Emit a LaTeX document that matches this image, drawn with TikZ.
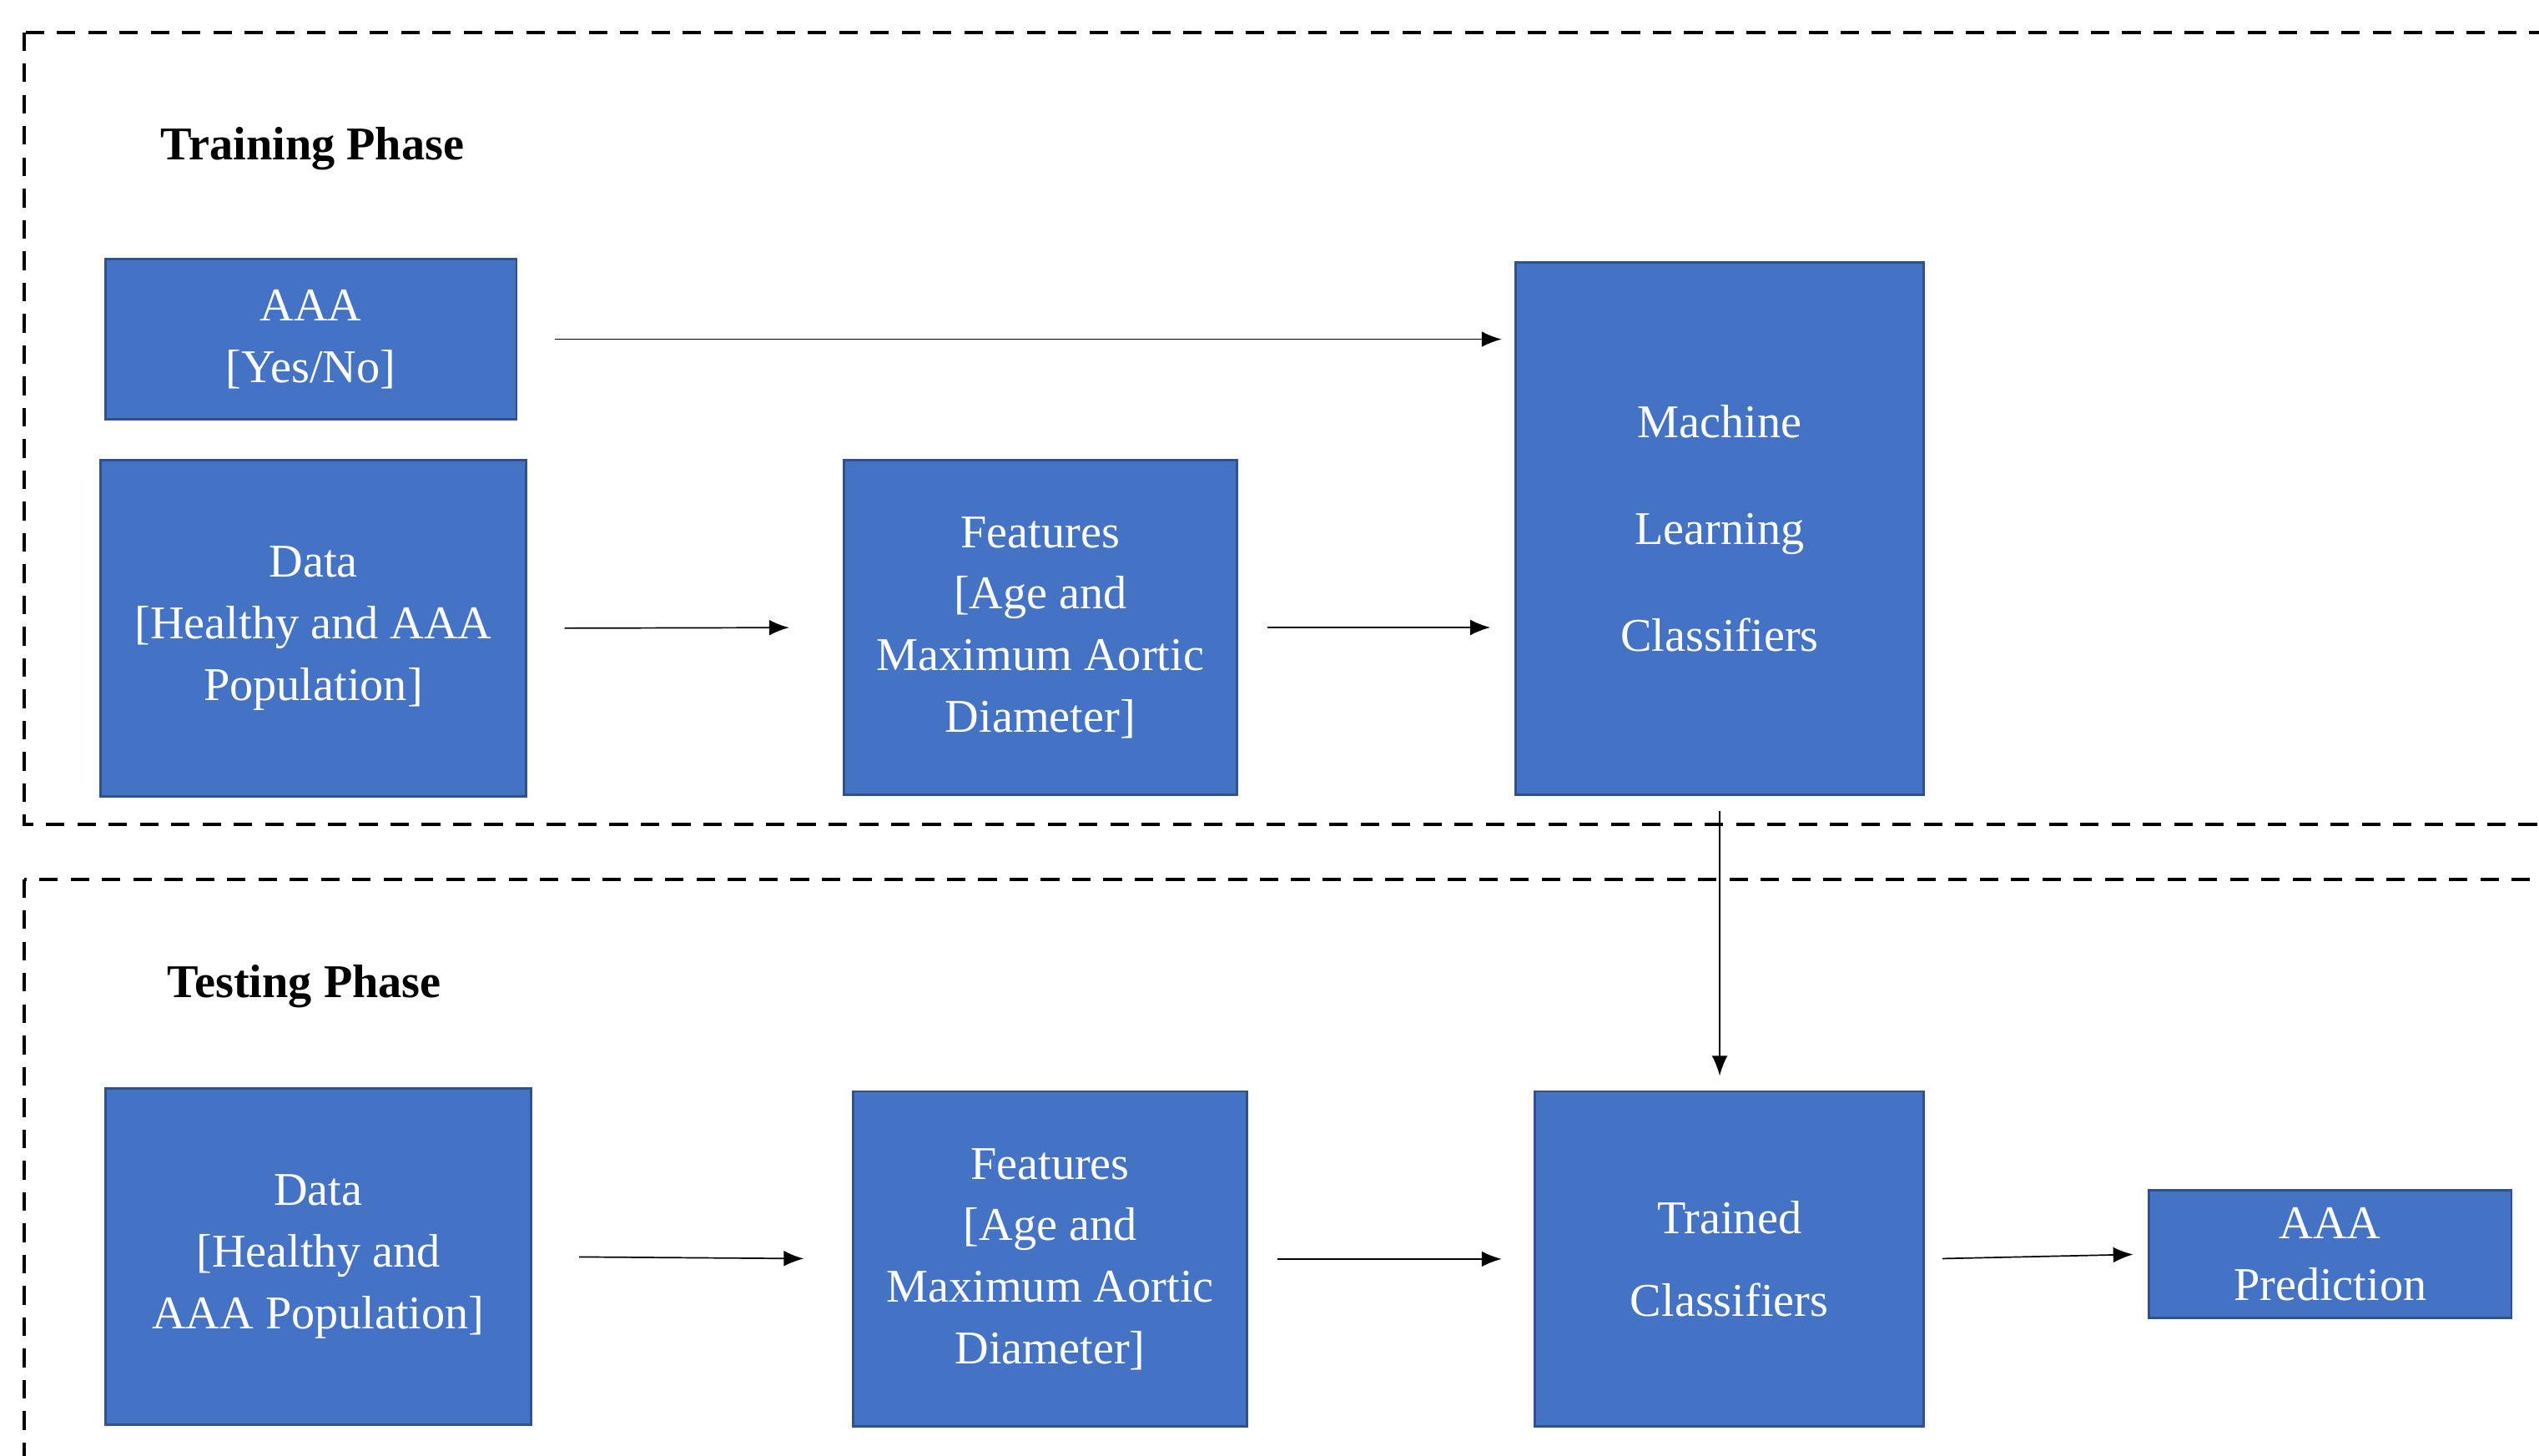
\documentclass[tikz,border=0pt]{standalone}
\usepackage{fontspec}
\setmainfont{Liberation Serif}
\usetikzlibrary{positioning, calc, arrows.meta}
\definecolor{boxblue}{HTML}{4472C4}
\definecolor{boxedge}{HTML}{2F528F}

\begin{document}
\begin{tikzpicture}[x=0.02cm, y=-0.02cm,
        blockbox/.style={draw=boxedge, line width=0.8pt, fill=boxblue, text=white, align=center,
            inner sep=0pt, font=\fontsize{16.5}{21.6}\selectfont},
        phase/.style={font=\fontsize{16.5}{20}\selectfont\bfseries},
        region/.style={line width=1.2pt, dash pattern=on 6.5pt off 4.5pt},
        flow/.style={line width=0.5pt, -{Latex[length=7pt,width=5.5pt]}}]
            \useasboundingbox (0,0) rectangle (1568,899);
            \clip (0,0) rectangle (1568,899);
            
            % Phasen
            \draw[region] (15,20) rectangle (1600,509);
            \draw[region] (15,543) rectangle (1600,930);
            \node[phase] (trainlbl) at (193,92) {Training Phase};
            \node[phase] (testlbl) at (188,609) {Testing Phase};
            
            % Training
            \node[blockbox, minimum width=5.08cm, minimum height=1.98cm] (aaa) at (192,209.5) {AAA\\{}[Yes/No]};
            \node[blockbox, minimum width=5.26cm, minimum height=4.16cm] (data) at (193.5,388) {Data\\{}[Healthy and AAA\\Population]};
            \node[blockbox, minimum width=4.86cm, minimum height=4.14cm] (feat) at (642.5,387.5) {Features\\{}[Age and\\Maximum Aortic\\Diameter]};
            \node[blockbox, minimum width=5.04cm, minimum height=6.58cm] (ml) at (1062,326.5) {Machine\\[0.56cm]Learning\\[0.56cm]Classifiers};
            
            % Testing
            \node[blockbox, minimum width=5.26cm, minimum height=4.16cm] (tdata) at (196.5,776) {Data\\{}[Healthy and\\AAA Population]};
            \node[blockbox, minimum width=4.86cm, minimum height=4.14cm] (tfeat) at (648.5,777.5) {Features\\{}[Age and\\Maximum Aortic\\Diameter]};
            \node[blockbox, minimum width=4.8cm, minimum height=4.14cm] (trained) at (1068,777.5) {Trained\\[0.26cm]Classifiers};
            \node[blockbox, minimum width=4.48cm, minimum height=1.58cm] (pred) at (1439,774.5) {AAA\\Prediction};
            
            \draw[flow, shorten <=0.46cm, shorten >=0.16cm] (aaa.east) -- (aaa.east -| ml.west);
            \draw[flow, shorten <=0.46cm, shorten >=0.66cm] (data.east) -- (feat.west);
            \draw[flow, shorten <=0.36cm, shorten >=0.30cm] (feat.east) -- (feat.east -| ml.west);
            \draw[flow, shorten <=0.18cm, shorten >=0.18cm] (ml.south) -- (ml.south |- trained.north);
            \draw[flow, shorten <=0.58cm, shorten >=0.60cm] (tdata.east) -- (tfeat.west);
            \draw[flow, shorten <=0.36cm, shorten >=0.40cm] (tfeat.east) -- (trained.west);
            \draw[flow, shorten <=0.22cm, shorten >=0.18cm] (trained.east) -- (pred.west);
        \end{tikzpicture}
\end{document}
